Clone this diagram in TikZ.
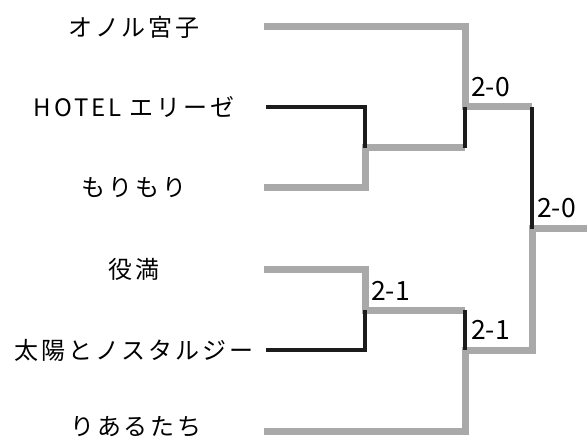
\documentclass[tikz,border=0pt]{standalone}
\usepackage{fontspec}
\newfontfamily\jpfont[LetterSpace=12]{Noto Sans CJK JP}
\newfontfamily\scorefont{Noto Sans CJK JP}
\definecolor{wincolor}{HTML}{A9A9A9}
\definecolor{losecolor}{HTML}{1C1C1C}
\tikzset{
    win/.style={draw=wincolor, line width=7pt},
    lose/.style={draw=losecolor, line width=4pt},
    team/.style={font=\jpfont\fontsize{24}{24}\selectfont, inner sep=0pt},
    score/.style={font=\scorefont\fontsize{26.5}{26.5}\selectfont, inner sep=0pt, anchor=base west}
}

\begin{document}
\begin{tikzpicture}[x=1pt, y=-1pt]

    \useasboundingbox (0, 0) rectangle (587, 441);

    % Teams
    \node[team] (onoru)  at (134, 27)  {オノル宮子};
    \node[team] (hotel)  at (134, 107) {HOTEL エリーゼ};
    \node[team] (mori)   at (134, 188) {もりもり};
    \node[team] (yakuman) at (134, 269) {役満};
    \node[team] (taiyo)  at (134, 350) {太陽とノスタルジー};
    \node[team] (riaru)  at (136, 427) {りあるたち};

    % Line starts
    \coordinate (e1) at (264, 27);
    \coordinate (e2) at (266, 107);
    \coordinate (e3) at (264, 188);
    \coordinate (e4) at (264, 269);
    \coordinate (e5) at (266, 350);
    \coordinate (e6) at (264, 431);

    % Match points
    \coordinate (m1) at (365, 148);
    \coordinate (m2) at (365, 310);
    \coordinate (sf1) at (465, 107);
    \coordinate (sf2) at (465, 350);
    \coordinate (fin) at (532, 229);
    \coordinate (champ) at (587, 229);

    % Winners
    \draw[win] (e1) -| (sf1) -- (sf1 -| fin);
    \draw[win] (e3) -| (m1) -- (m1 -| sf1);
    \draw[win] (e4) -| (m2) -- (m2 -| sf1);
    \draw[win] (e6) -| (sf2) -- (sf2 -| fin) -- (fin) -- (champ);

    % Losers
    \draw[lose] (e2) -| (m1);
    \draw[lose] (e5) -| (m2);
    \draw[lose] (m1 -| sf1) -- (sf1);
    \draw[lose] (m2 -| sf2) -- (sf2);
    \draw[lose] (sf1 -| fin) -- (fin);

    % Scores
    \node[score] (s1) at ([xshift=6pt, yshift=10pt]m2) {2-1};
    \node[score] (s2) at ([xshift=6pt, yshift=10pt]sf1) {2-0};
    \node[score] (s3) at ([xshift=6pt, yshift=11pt]sf2) {2-1};
    \node[score] (s4) at ([xshift=5pt, yshift=11pt]fin) {2-0};

\end{tikzpicture}
\end{document}
